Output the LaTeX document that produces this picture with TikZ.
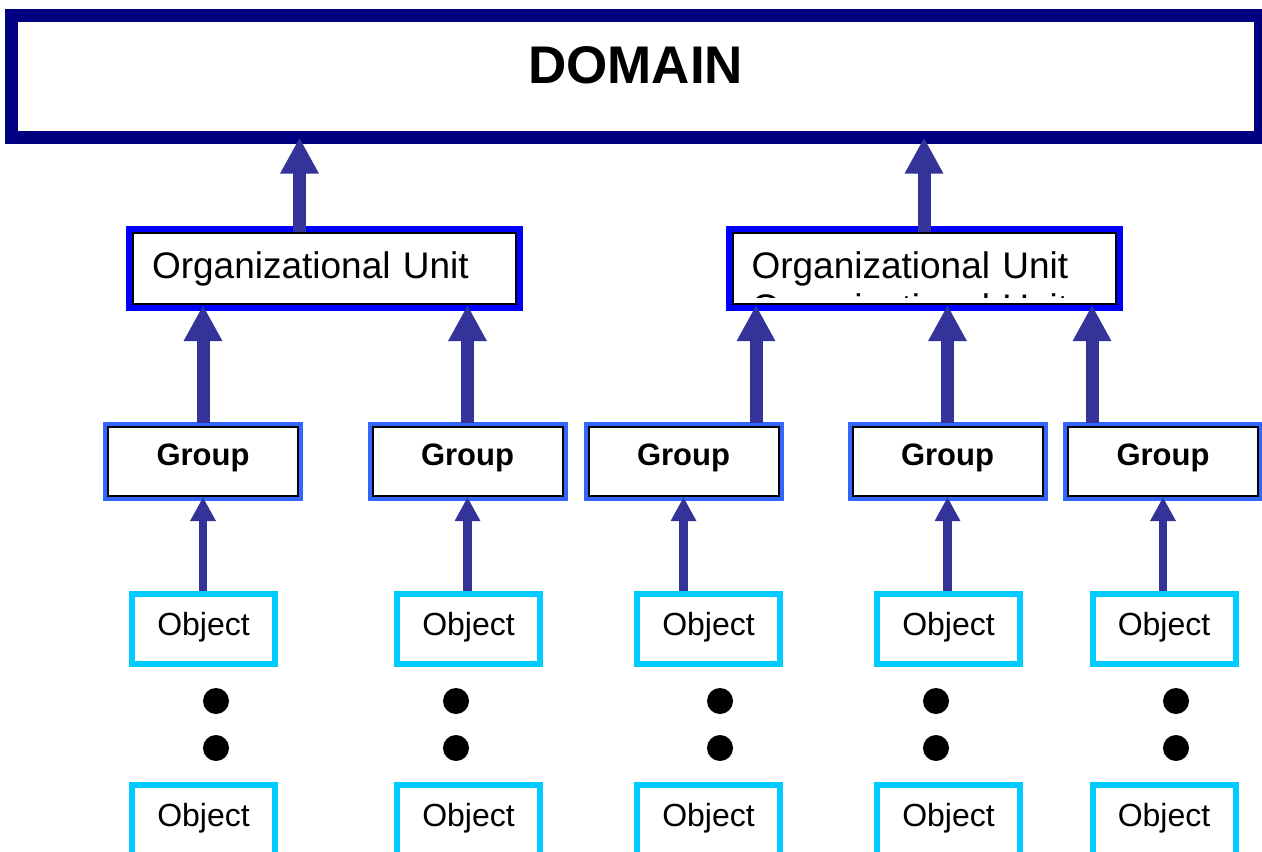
\documentclass[tikz,border=0pt]{standalone}
\usepackage{fontspec}
\setmainfont{Liberation Sans}
\usetikzlibrary{arrows.meta}
\definecolor{domainblue}{RGB}{0,0,128}
\definecolor{unitblue}{RGB}{0,0,255}
\definecolor{groupblue}{RGB}{51,102,255}
\definecolor{objcyan}{RGB}{0,204,255}
\definecolor{arrowblue}{RGB}{51,51,153}
\tikzset{
  domainbox/.style={draw=domainblue, line width=13pt, fill=white, minimum width=1249.5pt,
    minimum height=122.5pt, inner sep=0pt, outer sep=0pt,
    font=\fontsize{53}{60}\selectfont\bfseries, text depth=22pt},
  unittext/.style={inner sep=0pt, text width=345pt, align=left, font=\fontsize{37}{41}\selectfont},
  unitbox/.style={unittext, draw=black, line width=2pt, fill=white,
    preaction={draw=unitblue, line width=14pt},
    minimum width=383pt, minimum height=71pt, inner xsep=19pt},
  groupbox/.style={draw=black, line width=2pt, fill=white,
    preaction={draw=groupblue, line width=10pt},
    minimum width=190pt, minimum height=69pt, inner sep=0pt,
    font=\fontsize{31}{36}\selectfont\bfseries, text depth=14pt},
  objbox/.style={draw=objcyan, line width=6pt, fill=white, minimum width=143pt,
    minimum height=70pt, inner sep=0pt, font=\fontsize{32}{38}\selectfont, text depth=11pt},
  bigarrow/.style={draw=arrowblue, line width=13pt, -{Triangle[length=36pt, width=36pt]}},
  smallarrow/.style={draw=arrowblue, line width=8.5pt, -{Triangle[length=24pt, width=24pt]}},
}
\begin{document}
\begin{tikzpicture}[x=1pt, y=-1pt]
  \useasboundingbox (0,0) rectangle (1262,852);
  \node[domainbox] (domain) at (635.75,76.25) {DOMAIN};
  \node[unitbox] (ou1) at (324.5,268.5) {Organizational Unit};
  \node[unitbox] (ou2) at (924,268.5) {Organizational Unit};
  % second line of the right unit, cut off by the box
  \begin{scope}
    \clip (735,291) rectangle (1113,297);
    \node[unittext] (ou2ghost) at ([yshift=-42pt]ou2.center) {Organizational Unit};
  \end{scope}
  % groups
  \foreach \x [count=\i] in {203,467.5,683.5,947.5,1163}
    \node[groupbox] (g\i) at (\x,461.5) {Group};
  % objects, top and bottom row, dots in between
  \foreach \x/\d [count=\i] in {203.5/216,468.5/456,708.5/720,948.5/936,1164/1176}{
    \node[objbox] (o\i) at (\x,629) {Object};
    \node[objbox] (p\i) at (\x,820) {Object};
    \fill (\d,701) circle (13pt);
    \fill (\d,748) circle (13pt);
  }
  % object -> group
  \foreach \i in {1,...,5}
    \draw[smallarrow] (g\i.south |- o\i.north) -- (g\i.south);
  % group -> unit
  \coordinate (g1up) at ([yshift=3pt]g1.north);
  \coordinate (g2up) at ([yshift=3pt]g2.north);
  \coordinate (g3up) at ([xshift=72.5pt,yshift=3pt]g3.north);
  \coordinate (g4up) at ([yshift=3pt]g4.north);
  \coordinate (g5up) at ([xshift=-71pt,yshift=3pt]g5.north);
  \draw[bigarrow] (g1up) -- (g1up |- ou1.south);
  \draw[bigarrow] (g2up) -- (g2up |- ou1.south);
  \draw[bigarrow] (g3up) -- (g3up |- ou2.south);
  \draw[bigarrow] (g4up) -- (g4up |- ou2.south);
  \draw[bigarrow] (g5up) -- (g5up |- ou2.south);
  % unit -> domain
  \coordinate (ou1up) at ([xshift=-25pt]ou1.north);
  \draw[bigarrow] (ou1up) -- (ou1up |- domain.south);
  \draw[bigarrow] (ou2.north) -- (ou2.north |- domain.south);
\end{tikzpicture}
\end{document}
